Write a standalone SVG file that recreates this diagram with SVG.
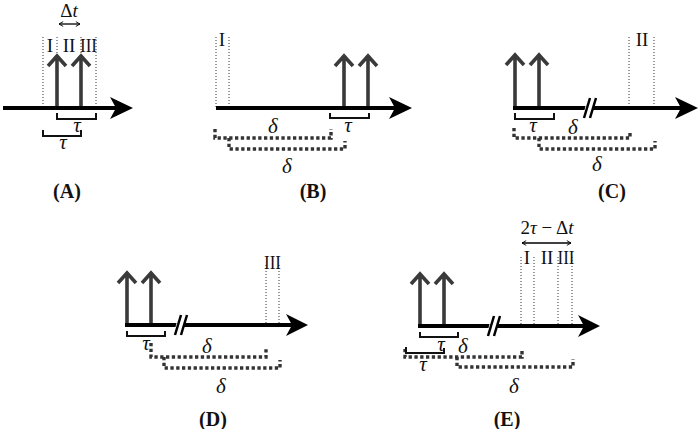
<svg xmlns="http://www.w3.org/2000/svg" width="700" height="429" viewBox="0 0 700 429">
<defs>
<style>
.t{font-family:"Liberation Serif","Times New Roman",serif;font-size:19px;fill:#111;text-anchor:middle}
.g{font-size:21px}
.i{font-style:italic}
.cap{font-family:"Liberation Serif","Times New Roman",serif;font-size:20px;font-weight:bold;fill:#111;text-anchor:middle}
.ax{stroke:#000;stroke-width:4;fill:none}
.hd{fill:#000}
.up{stroke:#3a3a3a;stroke-width:3.6;fill:none}
.dot{stroke:#333;stroke-width:1;stroke-dasharray:1 2;fill:none}
.br{stroke:#111;stroke-width:2;fill:none}
.db{stroke:#333;stroke-width:3.4;stroke-dasharray:3.3 2.5;fill:none}
.sl{stroke:#000;stroke-width:2.5;fill:none}
.gap{fill:#fff}
.dt{stroke:#000;stroke-width:1.3;fill:none;marker-start:url(#oa);marker-end:url(#oa)}
</style>
<marker id="oa" viewBox="0 0 10 10" refX="9" refY="5" markerWidth="6" markerHeight="6" orient="auto-start-reverse" markerUnits="userSpaceOnUse">
<path d="M2,1 L9,5 L2,9" stroke="#000" stroke-width="1.5" fill="none"/>
</marker>
</defs>

<g id="panelA">
<path class="dot" d="M43,37V108M57,37V108M81,37V108M96,37V108"/>
<text class="t" x="50" y="52">I</text>
<text class="t" x="69" y="52">II</text>
<text class="t" x="88.5" y="52" textLength="17" lengthAdjust="spacingAndGlyphs">III</text>
<text class="t" x="69" y="17">Δ<tspan class="i">t</tspan></text>
<path class="dt" d="M59,24H80"/>
<path class="up" d="M57,108V56M48,66L57,56L66,66M81,108V56M72,66L81,56L90,66"/>
<path class="ax" d="M3,108H118"/>
<polygon class="hd" points="133,108 110,97 116,108 110,119"/>
<path class="br" d="M57,113V119H96V113"/>
<text class="t g i" x="77" y="132">τ</text>
<path class="br" d="M43,130V136H81V130"/>
<text class="t g i" x="63" y="149">τ</text>
<text class="cap" x="67" y="198">(A)</text>
</g>

<g id="panelB">
<path class="dot" d="M216,37V108M229,37V108"/>
<text class="t" x="222" y="46">I</text>
<path class="up" d="M344,108V56M335,66L344,56L353,66M368,108V56M359,66L368,56L377,66"/>
<path class="ax" d="M216,108H397"/>
<polygon class="hd" points="412,108 389,97 395,108 389,119"/>
<path class="br" d="M330,113V118H369V113"/>
<text class="t g i" x="348" y="132">τ</text>
<text class="t g i" x="273" y="133">δ</text>
<path class="db" d="M215,129V138H331V129"/>
<path class="db" d="M229,138V149H345V141"/>
<text class="t g i" x="287" y="173">δ</text>
<text class="cap" x="313" y="198">(B)</text>
</g>

<g id="panelC">
<path class="dot" d="M629,37V108M654,37V108"/>
<text class="t" x="642" y="46">II</text>
<path class="up" d="M515,108V55M506,65L515,55L524,65M539,108V55M530,65L539,55L548,65"/>
<path class="ax" d="M513,108H683"/>
<polygon class="gap" points="586,104 594,104 592,112 584,112"/>
<path class="sl" d="M584,118L590,98M590,118L596,98"/>
<polygon class="hd" points="698,108 675,97 681,108 675,119"/>
<path class="br" d="M515,113V119H554V113"/>
<text class="t g i" x="533" y="132">τ</text>
<text class="t g i" x="573" y="134">δ</text>
<path class="db" d="M514,128V138H630V131"/>
<path class="db" d="M539,138V149H655V141"/>
<text class="t g i" x="597" y="171">δ</text>
<text class="cap" x="612" y="198">(C)</text>
</g>

<g id="panelD">
<path class="dot" d="M266,265V325M279,265V325"/>
<text class="t" x="272.5" y="269" textLength="17" lengthAdjust="spacingAndGlyphs">III</text>
<path class="up" d="M127,325V273M118,283L127,273L136,283M151,325V273M142,283L151,273L160,283"/>
<path class="ax" d="M125,325H293"/>
<polygon class="gap" points="177,321 185,321 183,329 175,329"/>
<path class="sl" d="M175,335L181,315M181,335L187,315"/>
<polygon class="hd" points="308,325 286,314 292,325 286,336"/>
<path class="br" d="M127,331V336H165V331"/>
<text class="t g i" x="146" y="350">τ</text>
<text class="t g i" x="207" y="353">δ</text>
<path class="db" d="M151,343V357H266V349"/>
<path class="db" d="M164,357V368H280V360"/>
<text class="t g i" x="221" y="393">δ</text>
<text class="cap" x="213" y="426">(D)</text>
</g>

<g id="panelE">
<path class="dot" d="M521,257V326M534,257V326M558,257V326M572,257V326"/>
<text class="t" x="527" y="264">I</text>
<text class="t" x="547" y="264">II</text>
<text class="t" x="566" y="264" textLength="17" lengthAdjust="spacingAndGlyphs">III</text>
<text class="t" x="547" y="234">2<tspan class="i">τ</tspan> − Δ<tspan class="i">t</tspan></text>
<path class="dt" d="M522,243H571"/>
<path class="up" d="M420,326V274M411,284L420,274L429,284M444,326V274M435,284L444,274L453,284"/>
<path class="ax" d="M418,326H585"/>
<polygon class="gap" points="490,322 498,322 496,330 488,330"/>
<path class="sl" d="M488,336L494,316M494,336L500,316"/>
<polygon class="hd" points="600,326 578,315 584,326 578,337"/>
<path class="br" d="M420,332V337H458V332"/>
<text class="t g i" x="441" y="351">τ</text>
<text class="t g i" x="463" y="353">δ</text>
<path class="db" d="M405,349V357H522V349"/>
<path class="br" d="M406,347V353H444V348"/>
<text class="t g i" x="423" y="371">τ</text>
<path class="db" d="M457,357V367H573V359"/>
<text class="t g i" x="514" y="393">δ</text>
<text class="cap" x="507" y="426">(E)</text>
</g>
</svg>
